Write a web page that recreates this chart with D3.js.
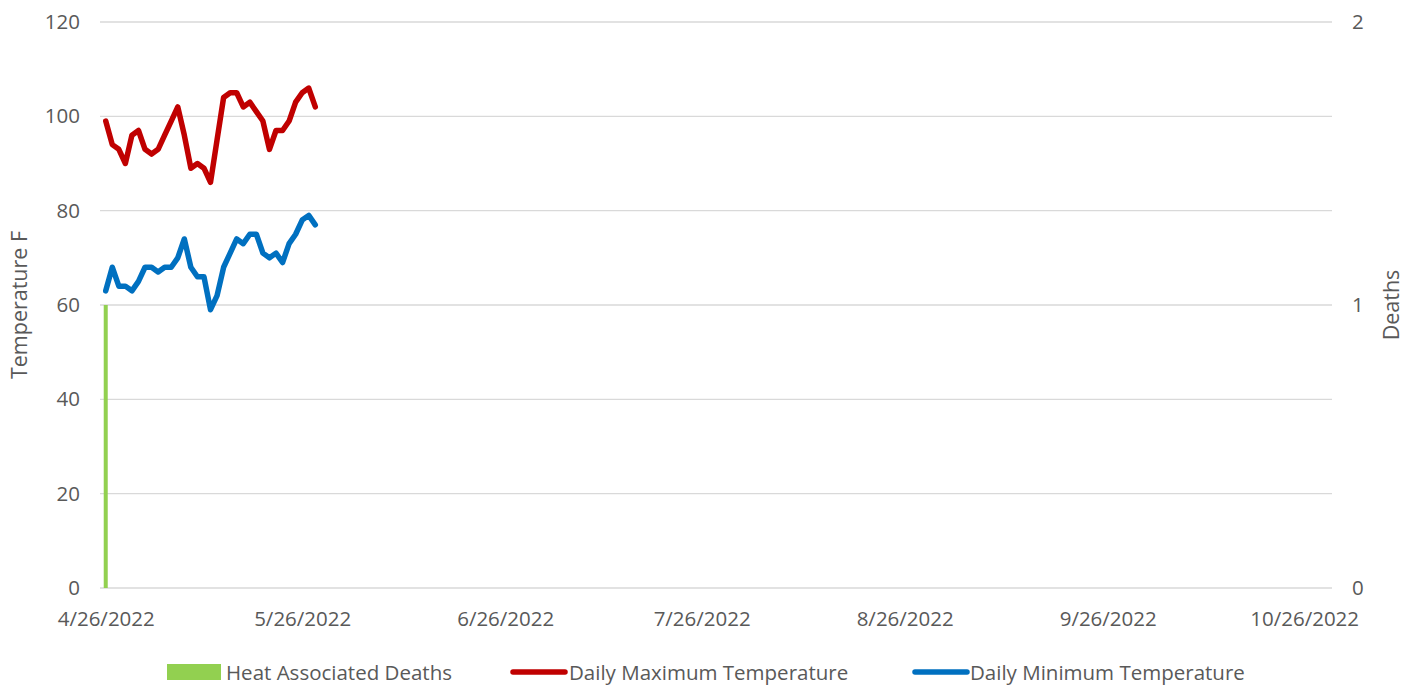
<!DOCTYPE html>
<html>
<head>
<meta charset="utf-8">
<script src="https://cdn.jsdelivr.net/npm/d3@7"></script>
<style>
  body { margin: 0; background: #fff; }
  svg text { font-family: "Open Sans", sans-serif; fill: #595959; }
</style>
</head>
<body>
<svg id="chart" width="1418" height="686"></svg>
<script>
// daily readings starting 4/26/2022
const startDate = new Date(2022, 3, 26);
const maxTemp = [99, 94, 93, 90, 96, 97, 93, 92, 93, 96, 99, 102, 96, 89, 90, 89, 86,
                 95, 104, 105, 105, 102, 103, 101, 99, 93, 97, 97, 99, 103, 105, 106, 102];
const minTemp = [63, 68, 64, 64, 63, 65, 68, 68, 67, 68, 68, 70, 74, 68, 66, 66, 59,
                 62, 68, 71, 74, 73, 75, 75, 71, 70, 71, 69, 73, 75, 78, 79, 77];
const deathDates = ["2022-04-26"];
const deathCounts = [1];
const tickDates = ["2022-04-26", "2022-05-26", "2022-06-26", "2022-07-26",
                   "2022-08-26", "2022-09-26", "2022-10-26"];
const tempTicks = [0, 20, 40, 60, 80, 100, 120];
const deathTicks = [0, 1, 2];

const parse = d3.timeParse("%Y-%m-%d");
const dayOf = i => d3.timeDay.offset(startDate, i);

const svg = d3.select("#chart");
const plotL = 100, plotR = 1332, plotT = 22, plotB = 588;
const fs = "20.5px";

const x = d3.scaleTime()
    .domain([new Date(2022, 3, 25, 3), new Date(2022, 9, 30, 6)])
    .range([plotL, plotR]);
const y = d3.scaleLinear().domain([0, 120]).range([plotB, plotT]);
const y2 = d3.scaleLinear().domain([0, 2]).range([plotB, plotT]);

// gridlines
svg.append("g")
    .selectAll("line")
    .data(tempTicks)
    .enter().append("line")
    .attr("x1", plotL).attr("x2", plotR)
    .attr("y1", d => y(d)).attr("y2", d => y(d))
    .attr("stroke", "#d9d9d9").attr("stroke-width", 1.3);

// left axis
const yAxis = svg.append("g")
    .attr("transform", `translate(${plotL},0)`)
    .call(d3.axisLeft(y).tickValues(tempTicks).tickSize(0).tickPadding(20));
yAxis.select(".domain").remove();
yAxis.selectAll("text").style("font-size", fs).attr("fill", "#595959");

// right axis
const y2Axis = svg.append("g")
    .attr("transform", `translate(${plotR},0)`)
    .call(d3.axisRight(y2).tickValues(deathTicks).tickFormat(d3.format("d"))
        .tickSize(0).tickPadding(20));
y2Axis.select(".domain").remove();
y2Axis.selectAll("text").style("font-size", fs).attr("fill", "#595959");

// x axis
const xAxis = svg.append("g")
    .attr("transform", `translate(0,${plotB})`)
    .call(d3.axisBottom(x).tickValues(tickDates.map(parse))
        .tickFormat(d3.timeFormat("%-m/%-d/%Y")).tickSize(0).tickPadding(23));
xAxis.select(".domain").remove();
xAxis.selectAll("text").style("font-size", fs).attr("fill", "#595959");

// axis titles
svg.append("text")
    .attr("transform", "translate(27,305) rotate(-90)")
    .attr("text-anchor", "middle")
    .style("font-size", "21.5px")
    .text("Temperature F");
svg.append("text")
    .attr("transform", "translate(1399,305) rotate(-90)")
    .attr("text-anchor", "middle")
    .style("font-size", "21.5px")
    .text("Deaths");

// deaths bars
svg.append("g")
    .selectAll("rect")
    .data(deathDates)
    .enter().append("rect")
    .attr("x", d => x(parse(d)) - 2)
    .attr("width", 4)
    .attr("y", (d, i) => y2(deathCounts[i]))
    .attr("height", (d, i) => plotB - y2(deathCounts[i]))
    .attr("fill", "#92d050");

// temperature lines
const line = d3.line()
    .x((d, i) => x(dayOf(i)))
    .y(d => y(d));

svg.append("path")
    .datum(maxTemp)
    .attr("d", line)
    .attr("fill", "none")
    .attr("stroke", "#c00000")
    .attr("stroke-width", 5.5)
    .attr("stroke-linejoin", "round")
    .attr("stroke-linecap", "round");

svg.append("path")
    .datum(minTemp)
    .attr("d", line)
    .attr("fill", "none")
    .attr("stroke", "#0070c0")
    .attr("stroke-width", 5.5)
    .attr("stroke-linejoin", "round")
    .attr("stroke-linecap", "round");

// legend
const legend = svg.append("g").attr("transform", "translate(0,672)");
legend.append("rect")
    .attr("x", 167).attr("y", -8).attr("width", 54).attr("height", 16)
    .attr("fill", "#92d050");
legend.append("text").attr("x", 226).attr("y", 7.5).style("font-size", fs)
    .text("Heat Associated Deaths");

legend.append("line")
    .attr("x1", 513).attr("x2", 565).attr("y1", 0).attr("y2", 0)
    .attr("stroke", "#c00000").attr("stroke-width", 5.5).attr("stroke-linecap", "round");
legend.append("text").attr("x", 569).attr("y", 7.5).style("font-size", fs)
    .text("Daily Maximum Temperature");

legend.append("line")
    .attr("x1", 915).attr("x2", 967).attr("y1", 0).attr("y2", 0)
    .attr("stroke", "#0070c0").attr("stroke-width", 5.5).attr("stroke-linecap", "round");
legend.append("text").attr("x", 970).attr("y", 7.5).style("font-size", fs)
    .text("Daily Minimum Temperature");
</script>
</body>
</html>
